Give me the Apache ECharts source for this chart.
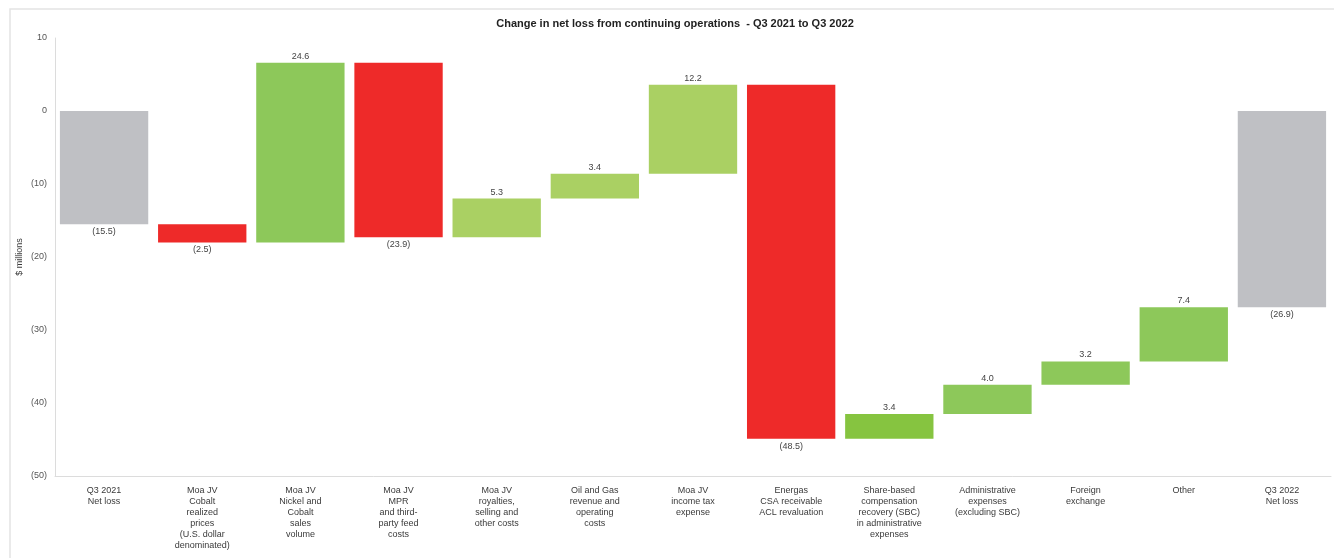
<!doctype html>
<html>
<head>
    <meta charset="UTF-8">
    <title>Change in net loss from continuing operations</title>
    <script src="https://cdn.jsdelivr.net/npm/echarts@6/dist/echarts.min.js"></script>
    <style>
        html, body { margin: 0; padding: 0; background: #fff; }
    </style>
</head>
<body>
<div id="main" style="width: 1334px;height:558px;"></div>
<script type="text/javascript">
    // 分类 / 数值
    var categories = [
        'Q3 2021\nNet loss',
        'Moa JV\nCobalt\nrealized\nprices\n(U.S. dollar\ndenominated)',
        'Moa JV\nNickel and\nCobalt\nsales\nvolume',
        'Moa JV\nMPR\nand third-\nparty feed\ncosts',
        'Moa JV\nroyalties,\nselling and\nother costs',
        'Oil and Gas\nrevenue and\noperating\ncosts',
        'Moa JV\nincome tax\nexpense',
        'Energas\nCSA receivable\nACL revaluation',
        'Share-based\ncompensation\nrecovery (SBC)\nin administrative\nexpenses',
        'Administrative\nexpenses\n(excluding SBC)',
        'Foreign\nexchange',
        'Other',
        'Q3 2022\nNet loss'
    ];
    var changes = [-15.5, -2.5, 24.6, -23.9, 5.3, 3.4, 12.2, -48.5, 3.4, 4.0, 3.2, 7.4, -26.9];
    var isTotal = [true, false, false, false, false, false, false, false, false, false, false, false, true];
    var yTicks = [-50, -40, -30, -20, -10, 0, 10];

    // 颜色
    var barColors = ['#bfc0c4', '#ee2a29', '#8dc85a', '#ee2a29', '#aad063', '#aad063', '#aad063',
        '#ee2a29', '#86c440', '#8dc85a', '#8dc85a', '#8dc85a', '#bfc0c4'];

    // waterfall 区间
    var rows = [];
    var run = 0;
    for (var i = 0; i < changes.length; i++) {
        var lo, hi;
        if (isTotal[i]) {
            lo = Math.min(0, changes[i]);
            hi = Math.max(0, changes[i]);
            run = changes[i];
        } else {
            var next = run + changes[i];
            lo = Math.min(run, next);
            hi = Math.max(run, next);
            run = next;
        }
        rows.push([i, lo, hi, changes[i]]);
    }

    function fmt(v) {
        return v < 0 ? '(' + Math.abs(v).toFixed(1) + ')' : v.toFixed(1);
    }

    var myChart = echarts.init(document.getElementById('main'));
    var option = {
        animation: false,
        textStyle: { fontFamily: 'Liberation Sans, Arial, sans-serif' },
        title: {
            text: 'Change in net loss from continuing operations  - Q3 2021 to Q3 2022',
            left: 670,
            textAlign: 'center',
            top: 13,
            textStyle: { fontSize: 11, fontWeight: 'bold', color: '#222', fontFamily: 'Liberation Sans, Arial, sans-serif' }
        },
        graphic: [{
            type: 'rect',
            shape: { x: 10, y: 9, width: 1340, height: 560 },
            style: { fill: 'none', stroke: '#e4e4e4', lineWidth: 1.5 },
            silent: true
        }, {
            // y 轴标题
            type: 'text',
            x: 20,
            y: 257,
            rotation: Math.PI / 2,
            style: {
                text: '$ millions', align: 'center', verticalAlign: 'middle',
                fontSize: 9, fill: '#3a3a3a', fontFamily: 'Liberation Sans, Arial, sans-serif'
            },
            silent: true
        }],
        grid: { left: 55, right: 3, top: 38, bottom: 82 },
        xAxis: {
            type: 'category',
            data: categories,
            axisLine: { onZero: false, lineStyle: { color: '#dcdcdc' } },
            axisTick: { show: false },
            axisLabel: {
                interval: 0, fontSize: 9, color: '#3a3a3a', lineHeight: 11,
                margin: 9
            }
        },
        yAxis: {
            type: 'value',
            min: yTicks[0],
            max: yTicks[yTicks.length - 1],
            interval: 10,
            axisLine: { show: true, lineStyle: { color: '#dcdcdc' } },
            axisTick: { show: false },
            splitLine: { show: false },
            axisLabel: {
                fontSize: 9, color: '#555', margin: 8,
                formatter: function (v) { return v < 0 ? '(' + Math.abs(v) + ')' : String(v); }
            }
        },
        series: [{
            type: 'custom',
            data: rows,
            encode: { x: 0, y: [1, 2] },
            renderItem: function (params, api) {
                var idx = api.value(0);
                var top = api.coord([idx, api.value(2)]);
                var bot = api.coord([idx, api.value(1)]);
                var w = api.size([1, 0])[0] * 0.9;
                var v = api.value(3);
                var lbl = v >= 0
                    ? { x: top[0], y: top[1] - 2, verticalAlign: 'bottom' }
                    : { x: bot[0], y: bot[1] + 3, verticalAlign: 'top' };
                return {
                    type: 'group',
                    children: [{
                        type: 'rect',
                        shape: { x: top[0] - w / 2, y: top[1], width: w, height: bot[1] - top[1] },
                        style: { fill: barColors[idx] }
                    }, {
                        type: 'text',
                        style: {
                            text: fmt(v), x: lbl.x, y: lbl.y,
                            align: 'center', verticalAlign: lbl.verticalAlign,
                            fontSize: 9, fill: '#444',
                            fontFamily: 'Liberation Sans, Arial, sans-serif'
                        }
                    }]
                };
            }
        }]
    };
    myChart.setOption(option);
</script>
</body>
</html>
